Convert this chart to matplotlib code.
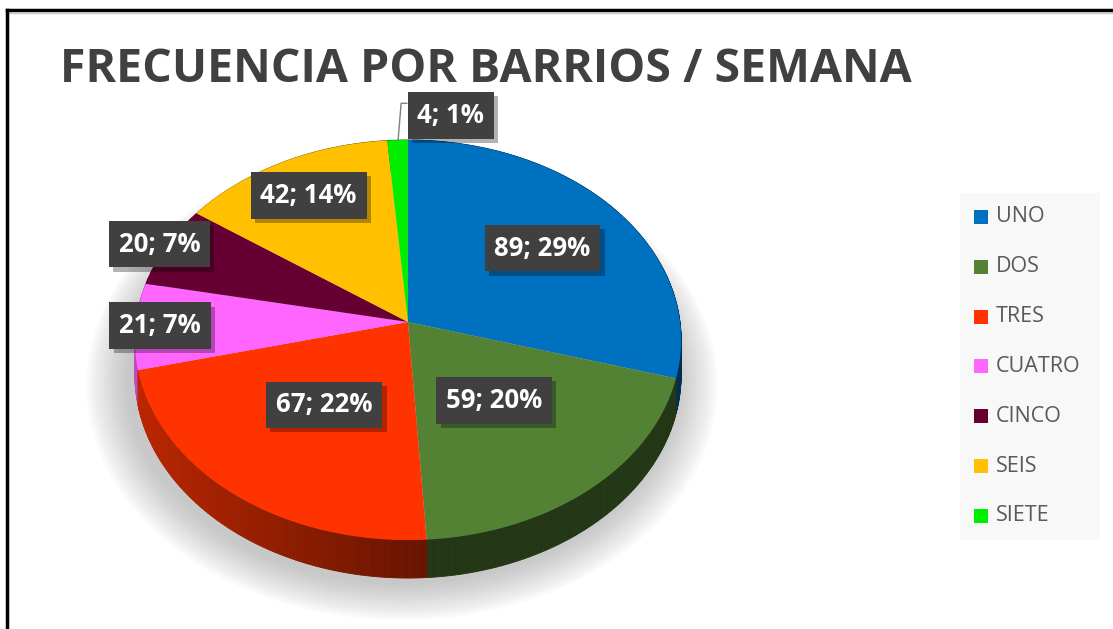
import numpy as np
import matplotlib.pyplot as plt
from matplotlib.patches import Polygon, Rectangle
from matplotlib.lines import Line2D
import matplotlib.patheffects as pe

barrios = ['UNO', 'DOS', 'TRES', 'CUATRO', 'CINCO', 'SEIS', 'SIETE']
frecuencia = [89, 59, 67, 21, 20, 42, 4]
colores = ['#0070c0', '#548235', '#ff3300', '#ff66ff', '#660033', '#ffc000', '#00ee00']
titulo = 'FRECUENCIA POR BARRIOS / SEMANA'

# layout (pixels)
W, H = 1113, 629
cx, cy = 408, 322      # apex of the pie on screen
A, B = 272, 198.4      # horizontal / vertical radius
k = 0.09               # perspective
depth = 34.6           # thickness of the pie
lab_r = [0.64, 0.49, 0.5, 0.91, 1.03, 0.78, 1.2]

FONT = 'Open Sans'

def proj(u, v, z=0.0):
    s = 1.0 / (1 - k * v)
    return cx + A * u * s, cy + B * v * s + depth * z * s

def pt(t, r=1.0, z=0.0):
    # t in degrees, clockwise from 12 o'clock
    a = np.radians(t)
    return proj(r * np.sin(a), -r * np.cos(a), z)

fig = plt.figure(figsize=(W / 100, H / 100), dpi=100)
ax = fig.add_axes([0, 0, 1, 1])
ax.set_xlim(0, W)
ax.set_ylim(H, 0)
ax.axis('off')

vals = np.array(frecuencia, dtype=float)
total = vals.sum()
edges = np.concatenate([[0], np.cumsum(vals)]) / total * 360

# soft shadow under the pie
for i in range(14):
    grow = 1.0 + 0.011 * (14 - i)
    tt = np.linspace(0, 360, 200)
    xs, ys = [], []
    for t in tt:
        x, y = pt(t, grow, 1.0)
        xs.append(x - 6)
        ys.append(y + 4)
    ax.add_patch(Polygon(np.column_stack([xs, ys]), closed=True,
                         facecolor='#808080', edgecolor='none', alpha=0.035, zorder=1))

# side of the pie, painted back to front
strips = []
for i, c in enumerate(colores):
    ts = np.linspace(edges[i], edges[i + 1], max(3, int((edges[i + 1] - edges[i]) * 2)))
    for t0, t1 in zip(ts[:-1], ts[1:]):
        tm = (t0 + t1) / 2
        u = np.sin(np.radians(tm))
        v = -np.cos(np.radians(tm))
        strips.append((v, t0, t1, c, u))
strips.sort(key=lambda s: s[0])
for v, t0, t1, c, u in strips:
    f = 0.42 + 0.33 * max(0.0, -u)
    rgb = np.array(plt.matplotlib.colors.to_rgb(c)) * f
    p = [pt(t0), pt(t1), pt(t1, 1, 1), pt(t0, 1, 1)]
    ax.add_patch(Polygon(p, closed=True, facecolor=rgb, edgecolor=rgb, lw=0.6, zorder=2))

# top face
for i, c in enumerate(colores):
    ts = np.linspace(edges[i], edges[i + 1], 80)
    p = [proj(0, 0)] + [pt(t) for t in ts]
    ax.add_patch(Polygon(p, closed=True, facecolor=c, edgecolor='none', zorder=3))

# data labels
for i, (n, val) in enumerate(zip(barrios, frecuencia)):
    tm = (edges[i] + edges[i + 1]) / 2
    x, y = pt(tm, lab_r[i])
    txt = '%d; %d%%' % (val, round(val / total * 100))
    if i == len(barrios) - 1:
        x, y = x + 55, y + 8
        bx, by = pt(edges[i] + 2.5)
        ax.add_line(Line2D([bx, bx + 3, x - 44], [by, y - 12, y - 12],
                           color='#7f7f7f', lw=1, zorder=4))
    t = ax.text(x, y, txt, fontsize=18.5, fontweight='bold', family=FONT,
                color='white', ha='center', va='center', zorder=5,
                bbox=dict(boxstyle='square,pad=0.38', fc='#404040', ec='none'))
    t.get_bbox_patch().set_path_effects(
        [pe.SimplePatchShadow(offset=(3, -3), shadow_rgbFace='black', alpha=0.3), pe.Normal()])

# title
ax.text(60, 70, titulo, fontsize=33.5, fontweight='bold', family=FONT,
        color='#404040', ha='left', va='center', zorder=5)

# legend
ax.add_patch(Rectangle((960, 193), 140, 347, facecolor='#f8f8f8', edgecolor='none', zorder=3))
for i, (n, c) in enumerate(zip(barrios, colores)):
    ly = 217 + i * 49.8
    ax.add_patch(Rectangle((974, ly - 7), 14, 14, facecolor=c, edgecolor='none', zorder=4))
    ax.text(996, ly, n, fontsize=15.5, family=FONT, color='#595959',
            ha='left', va='center', zorder=4)

# frame
ax.add_line(Line2D([7, W], [10, 10], color='black', lw=2.5, zorder=6))
ax.add_line(Line2D([7, W], [12.5, 12.5], color='#c8c8c8', lw=1, zorder=6))
ax.add_line(Line2D([7, 7], [10, H], color='black', lw=2.5, zorder=6))

fig.savefig('out.png', dpi=100)
